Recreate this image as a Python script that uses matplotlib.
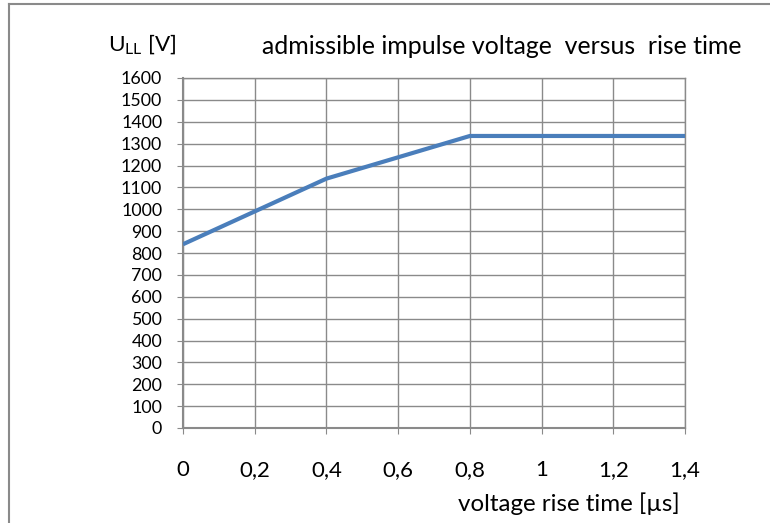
import matplotlib
matplotlib.use('Agg')
import matplotlib.pyplot as plt
from matplotlib.lines import Line2D

# data
rise_time = [0.0, 0.4, 0.8, 1.4]
voltage = [840, 1140, 1335, 1335]
x_ticks = [0, 0.2, 0.4, 0.6, 0.8, 1.0, 1.2, 1.4]
x_labels = ['0', '0,2', '0,4', '0,6', '0,8', '1', '1,2', '1,4']
y_ticks = list(range(0, 1601, 100))

plt.rcParams['font.family'] = ['Lato', 'DejaVu Sans']
W, H = 770, 523
fig = plt.figure(figsize=(W / 100, H / 100), dpi=100)
ax = fig.add_axes([183 / W, 1 - 428 / H, (685 - 183) / W, (428 - 78) / H])

grid_col = '#8a8a8a'
ax.plot(rise_time, voltage, color='#4a7ebb', lw=3.0, solid_capstyle='butt', zorder=3)
ax.set_xlim(0, 1.4)
ax.set_ylim(0, 1600)
ax.set_xticks(x_ticks)
ax.set_xticklabels(x_labels, fontsize=16)
ax.set_yticks(y_ticks)
ax.set_yticklabels([str(v) for v in y_ticks], fontsize=12.8)
ax.grid(True, color=grid_col, lw=1.0)
for s in ax.spines.values():
    s.set_color(grid_col)
    s.set_linewidth(1.0)
ax.spines['left'].set_linewidth(1.5)
ax.spines['bottom'].set_linewidth(1.5)
ax.tick_params(axis='x', length=4, color=grid_col, pad=19)
ax.tick_params(axis='y', length=4, color=grid_col, pad=11)

fig.text(108 / W, 1 - 45 / H, r'U$_{\mathregular{LL}}$ [V]', fontsize=16.2, va='center', ha='left')
fig.text(262 / W, 1 - 46 / H, 'admissible impulse voltage  versus  rise time',
         fontsize=17.9, va='center', ha='left')
fig.text(680 / W, 1 - 504 / H, 'voltage rise time [\u00b5s]', fontsize=17.4, va='center', ha='right')

# chart frame, cut off at the right and bottom
fig.add_artist(Line2D([8.5 / W, 8.5 / W], [-0.1, 1 - 3.5 / H], color=grid_col, lw=1.5))
fig.add_artist(Line2D([8.5 / W, 1.1], [1 - 3.5 / H, 1 - 3.5 / H], color=grid_col, lw=1.5))

fig.savefig('out.png', dpi=100)
